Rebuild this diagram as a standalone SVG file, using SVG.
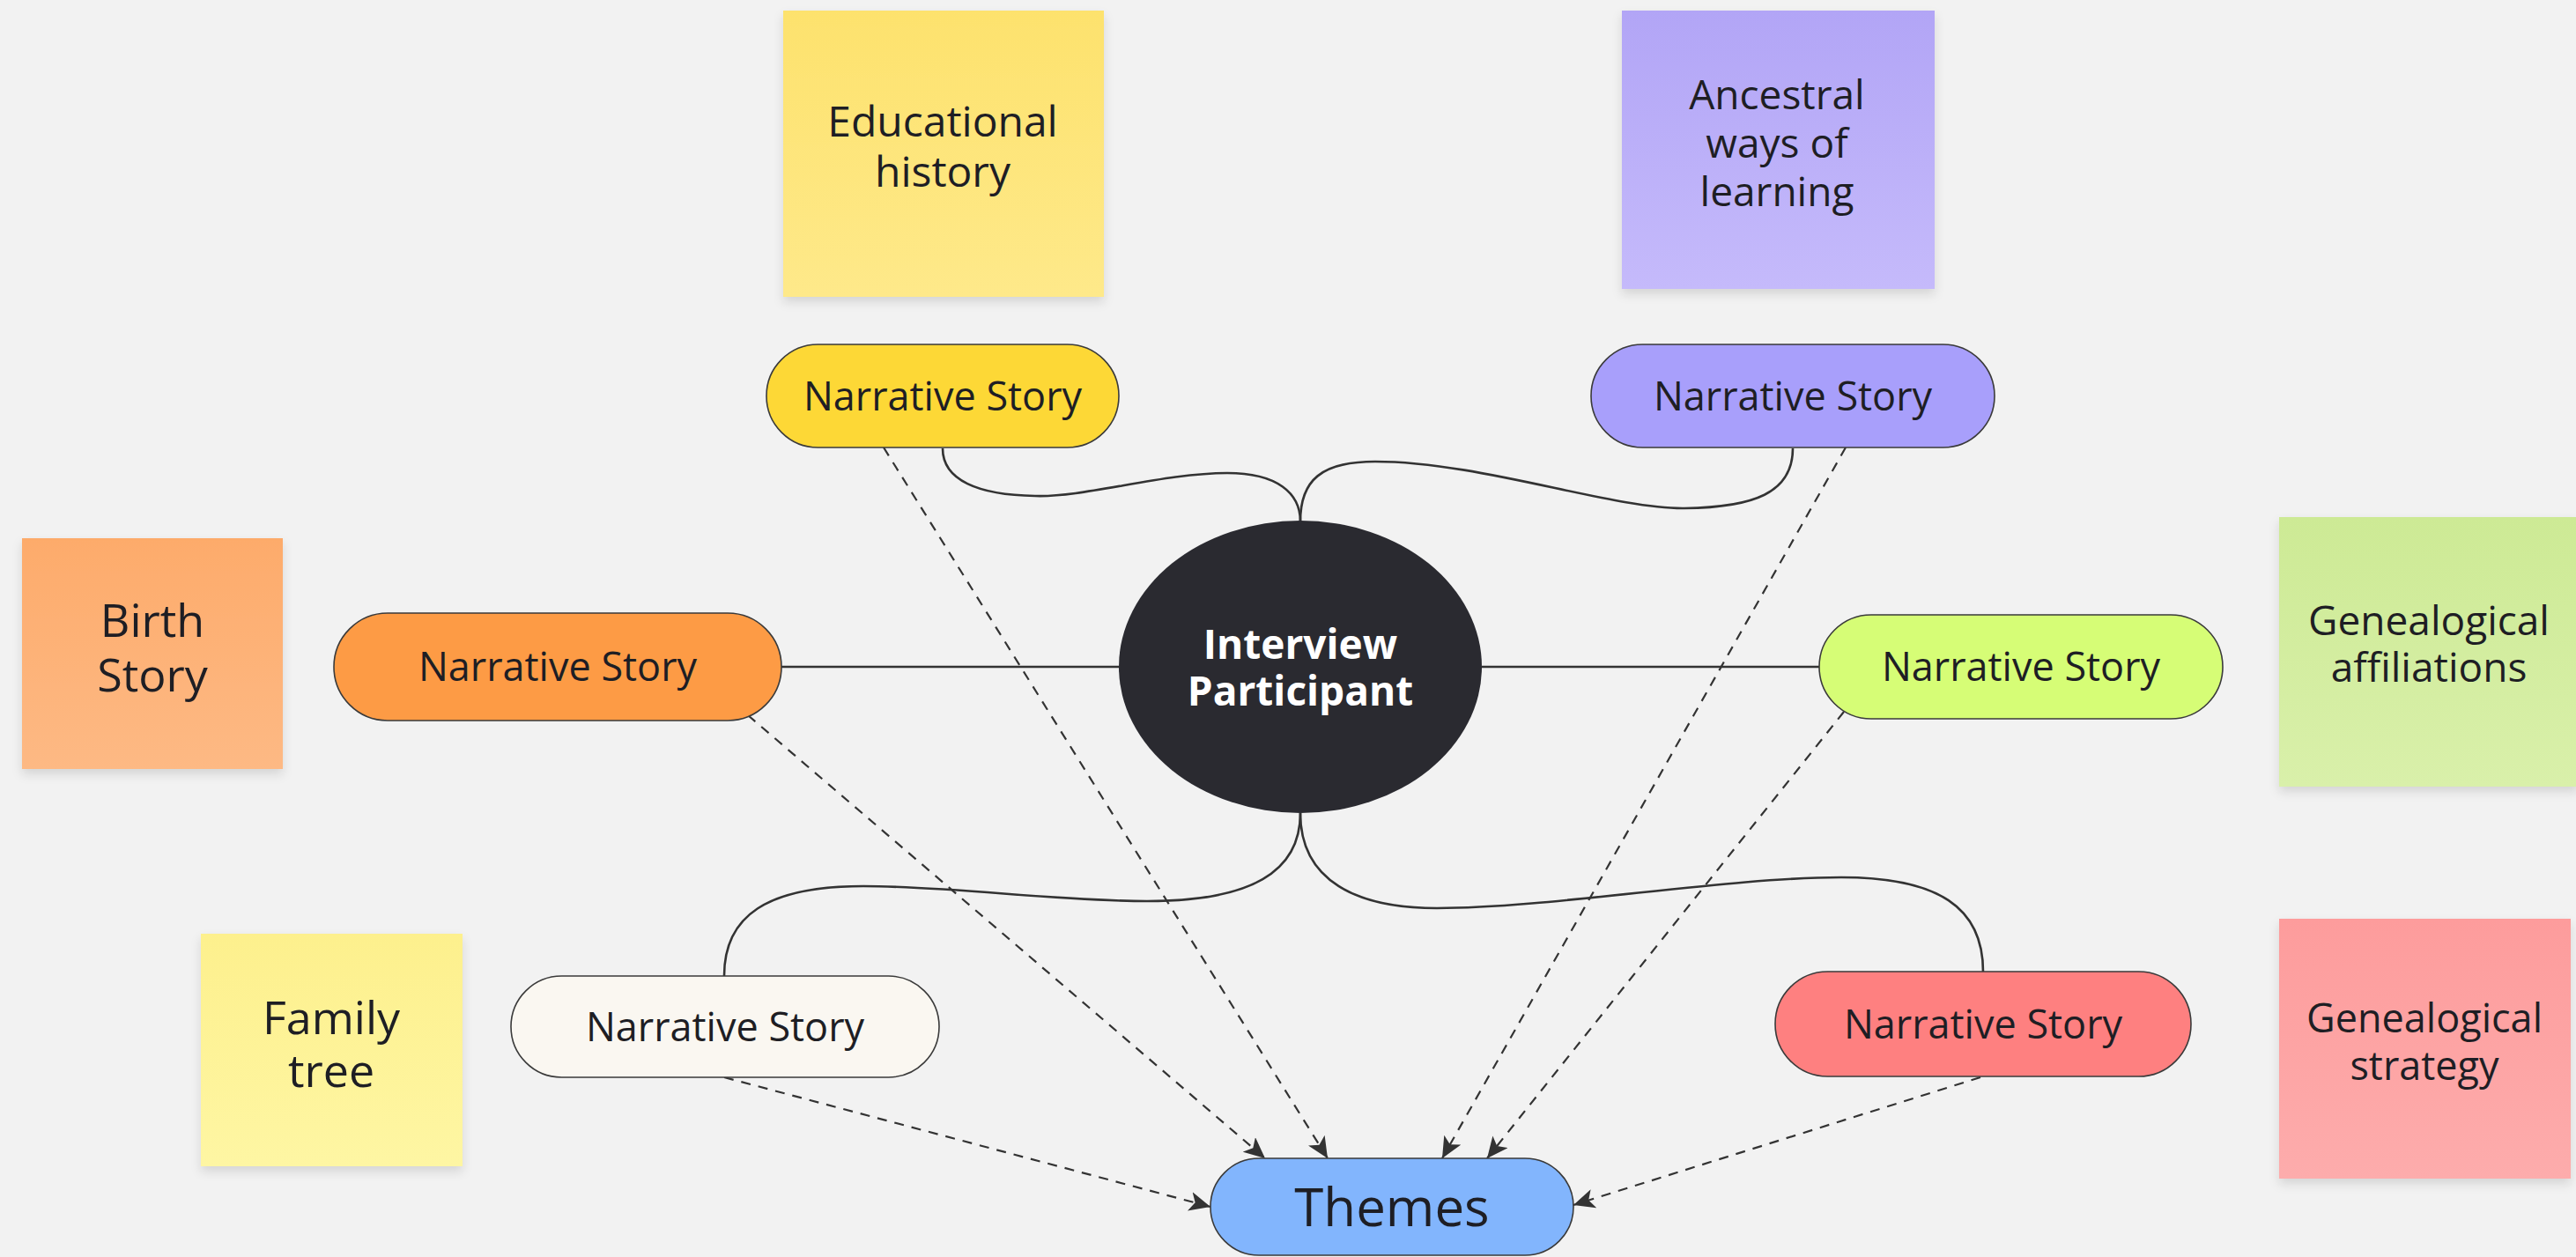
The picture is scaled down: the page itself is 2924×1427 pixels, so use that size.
<svg xmlns="http://www.w3.org/2000/svg" width="2924" height="1427" viewBox="0 0 2924 1427">
<style>
.sticky text, .pill text, .center text { font-family: "Open Sans", "Noto Sans", "DejaVu Sans", sans-serif; fill: #1e1e24; text-anchor: middle; }
.pill rect { stroke: #3a3a3a; stroke-width: 1.6; }
.pill text { font-size: 45px; }
.sticky rect { filter: url(#shadow); }
.solid { fill: none; stroke: #333; stroke-width: 2.6; }
.dash { fill: none; stroke: #333; stroke-width: 2.2; stroke-dasharray: 11 9; marker-end: url(#arrow); }
</style>
<defs>
<filter id="shadow" x="-10%" y="-10%" width="120%" height="130%">
<feDropShadow dx="0" dy="6" stdDeviation="6" flood-color="#000" flood-opacity="0.12"/>
</filter>
<marker id="arrow" markerUnits="userSpaceOnUse" markerWidth="26" markerHeight="22" refX="24" refY="11" orient="auto">
<path d="M0,0 L24,11 L0,22 L6,11 Z" fill="#333"/>
</marker>
<linearGradient id="gYel" x1="0" y1="0" x2="0" y2="1"><stop offset="0" stop-color="#fde26d"/><stop offset="1" stop-color="#fee98a"/></linearGradient>
<linearGradient id="gPur" x1="0" y1="0" x2="0" y2="1"><stop offset="0" stop-color="#b2a5f6"/><stop offset="1" stop-color="#c5bafb"/></linearGradient>
<linearGradient id="gOra" x1="0" y1="0" x2="0" y2="1"><stop offset="0" stop-color="#fdab6b"/><stop offset="1" stop-color="#fdb984"/></linearGradient>
<linearGradient id="gFam" x1="0" y1="0" x2="0" y2="1"><stop offset="0" stop-color="#fdf08d"/><stop offset="1" stop-color="#fef6a3"/></linearGradient>
<linearGradient id="gGrn" x1="0" y1="0" x2="0" y2="1"><stop offset="0" stop-color="#cdea95"/><stop offset="1" stop-color="#d9f0aa"/></linearGradient>
<linearGradient id="gRed" x1="0" y1="0" x2="0" y2="1"><stop offset="0" stop-color="#fd9c9c"/><stop offset="1" stop-color="#fdacac"/></linearGradient>
</defs>
<rect x="0" y="0" width="2924" height="1427" fill="#f2f2f2"/>

<g id="connectors">
<path class="solid" d="M1476,592 C1476,560 1450,537 1393,537 C1320,537 1230,565 1175,563 C1110,562 1070,545 1070,509"/>
<path class="solid" d="M1476,592 C1476,545 1500,524 1561,524 C1680,524 1830,578 1912,577 C1990,576 2035,560 2035,509"/>
<path class="solid" d="M1476,923 C1476,990 1420,1023 1302,1023 C1200,1023 1080,1006 980,1006 C870,1006 822,1040 822,1108"/>
<path class="solid" d="M1476,923 C1476,1000 1540,1031 1631,1031 C1760,1031 1960,996 2090,996 C2200,996 2251,1030 2251,1103"/>
<path class="solid" d="M887,757 H1270"/>
<path class="solid" d="M1682,757 H2065"/>
<path class="dash" d="M1003,508 L1507,1315"/>
<path class="dash" d="M849,812 L1436,1315"/>
<path class="dash" d="M2095,508 L1637,1315"/>
<path class="dash" d="M2093,808 L1688,1315"/>
<path class="dash" d="M822,1223 L1374,1370"/>
<path class="dash" d="M2248,1223 L1786,1368"/>
</g>

<g id="sticky-educational" class="sticky">
<rect x="889" y="12" width="364" height="325" fill="url(#gYel)"/>
<text x="1070" y="155" font-size="48">Educational</text>
<text x="1070" y="212" font-size="48">history</text>
</g>
<g id="sticky-ancestral" class="sticky">
<rect x="1841" y="12" width="355" height="316" fill="url(#gPur)"/>
<text x="2017" y="124" font-size="46">Ancestral</text>
<text x="2017" y="179" font-size="46">ways of</text>
<text x="2017" y="234" font-size="46">learning</text>
</g>
<g id="sticky-birth" class="sticky">
<rect x="25" y="611" width="296" height="262" fill="url(#gOra)"/>
<text x="173" y="723" font-size="52">Birth</text>
<text x="173" y="785" font-size="52">Story</text>
</g>
<g id="sticky-family" class="sticky">
<rect x="228" y="1060" width="297" height="264" fill="url(#gFam)"/>
<text x="376" y="1174" font-size="52">Family</text>
<text x="376" y="1234" font-size="52">tree</text>
</g>
<g id="sticky-affiliations" class="sticky">
<rect x="2587" y="587" width="340" height="306" fill="url(#gGrn)"/>
<text x="2757" y="721" font-size="46">Genealogical</text>
<text x="2757" y="774" font-size="46">affiliations</text>
</g>
<g id="sticky-strategy" class="sticky">
<rect x="2587" y="1043" width="331" height="295" fill="url(#gRed)"/>
<text x="2752" y="1172" font-size="45">Genealogical</text>
<text x="2752" y="1226" font-size="45">strategy</text>
</g>

<g id="center" class="center">
<ellipse cx="1476" cy="757" rx="206" ry="166" fill="#2a2a30"/>
<text x="1476" y="748" font-size="46" font-weight="bold" style="fill:#ffffff">Interview</text>
<text x="1476" y="801" font-size="46" font-weight="bold" style="fill:#ffffff">Participant</text>
</g>

<g id="pill-yellow" class="pill">
<rect x="870" y="391" width="400" height="117" rx="58.5" fill="#fdd836"/>
<text x="1070" y="466">Narrative Story</text>
</g>
<g id="pill-purple" class="pill">
<rect x="1806" y="391" width="458" height="117" rx="58.5" fill="#a89ffb"/>
<text x="2035" y="466">Narrative Story</text>
</g>
<g id="pill-orange" class="pill">
<rect x="379" y="696" width="508" height="122" rx="61" fill="#fd9b45"/>
<text x="633" y="773">Narrative Story</text>
</g>
<g id="pill-green" class="pill">
<rect x="2065" y="698" width="458" height="118" rx="59" fill="#d6fd76"/>
<text x="2294" y="773">Narrative Story</text>
</g>
<g id="pill-white" class="pill">
<rect x="580" y="1108" width="486" height="115" rx="57.5" fill="#faf7f1"/>
<text x="823" y="1182">Narrative Story</text>
</g>
<g id="pill-red" class="pill">
<rect x="2015" y="1103" width="472" height="119" rx="59.5" fill="#fe8080"/>
<text x="2251" y="1179">Narrative Story</text>
</g>
<g id="themes" class="pill">
<rect x="1374" y="1315" width="412" height="110" rx="55" fill="#82b5fd"/>
<text x="1580" y="1392" font-size="60" style="font-size:60px">Themes</text>
</g>
</svg>
